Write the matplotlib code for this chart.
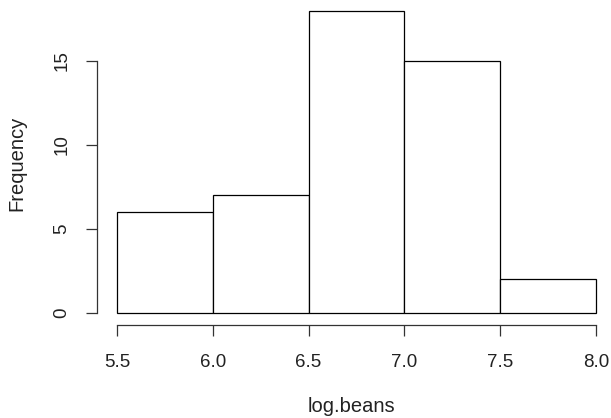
import matplotlib
matplotlib.use('Agg')
import matplotlib.pyplot as plt

# histogram of log.beans
BIN_EDGES = [5.5, 6.0, 6.5, 7.0, 7.5, 8.0]
COUNTS = [6, 7, 18, 15, 2]
X_TICKS = [5.5, 6.0, 6.5, 7.0, 7.5, 8.0]
X_TICK_LABELS = ['5.5', '6.0', '6.5', '7.0', '7.5', '8.0']
Y_TICKS = [0, 5, 10, 15]

W, H = 611, 418
DPI = 100

plt.rcParams['font.family'] = ['Liberation Sans', 'DejaVu Sans']

fig = plt.figure(figsize=(W / DPI, H / DPI), dpi=DPI)
# pixel geometry
x0, x1 = 117, 596        # 5.5 .. 8.0
y0 = 313                 # count 0
px_per_count = 16.8
ymax = 18
ytop = y0 - ymax * px_per_count
ax = fig.add_axes([x0 / W, 1 - y0 / H, (x1 - x0) / W, (y0 - ytop) / H])

widths = [b - a for a, b in zip(BIN_EDGES[:-1], BIN_EDGES[1:])]
ax.bar(BIN_EDGES[:-1], COUNTS, width=widths, align='edge',
       facecolor='white', edgecolor='black', linewidth=0.9, clip_on=False)

ax.set_xlim(BIN_EDGES[0], BIN_EDGES[-1])
ax.set_ylim(0, ymax)

for s in ['top', 'right']:
    ax.spines[s].set_visible(False)
ax.spines['left'].set_position(('outward', 20 * 72 / DPI))
ax.spines['bottom'].set_position(('outward', 12 * 72 / DPI))
ax.spines['left'].set_bounds(0, 15)
ax.spines['bottom'].set_bounds(5.5, 8.0)
for s in ['left', 'bottom']:
    ax.spines[s].set_linewidth(0.9)
    ax.spines[s].set_color('#333333')

ax.set_xticks(X_TICKS)
ax.set_xticklabels(X_TICK_LABELS)
ax.set_yticks(Y_TICKS)
ax.set_yticklabels([str(v) for v in Y_TICKS], rotation=90, va='center')
ax.tick_params(axis='both', length=8, width=0.9, color='#333333',
               labelsize=13.5, labelcolor='#222222')
ax.tick_params(axis='x', pad=13)
ax.tick_params(axis='y', pad=11)

fig.text(17 / W, 1 - 163 / H, 'Frequency', rotation=90, ha='center', va='center',
         fontsize=14.5, color='#222222')
fig.text(351 / W, 1 - 406 / H, 'log.beans', ha='center', va='center',
         fontsize=14.5, color='#222222')

fig.savefig('out.png', dpi=DPI)
